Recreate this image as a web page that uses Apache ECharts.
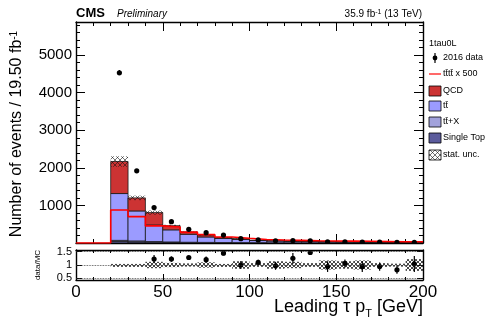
<!DOCTYPE html>
<html><head><meta charset="utf-8">
<script src="https://cdn.jsdelivr.net/npm/echarts@6/dist/echarts.min.js"></script>
<style>html,body{margin:0;padding:0;background:#fff}#c{width:488px;height:321px}</style>
</head><body><div id="c"></div>
<script>
// ---- data ----
const binLow   = [0,10,20,30,40,50,60,70,80,90,100,110,120,130,140,150,160,170,180,190];
const binWidth = 10;
const singleTop = [0,0,40,30,20,14,10,8,6,5,4,3,3,2,2,2,2,1,1,1];
const ttX       = [0,0,30,25,18,14,10,8,7,6,5,4,4,3,3,3,2,2,2,2];
const ttbar     = [0,0,1246,798,442,322,211,144,107,84,56,45,37,30,26,21,18,16,13,11];
const qcd       = [0,0,852,347,329,110,62,53,25,20,10,8,6,5,4,4,3,3,2,1];
const statUnc   = [0,0,140,60,55,25,15,12,8,7,5,4,4,3,3,3,2,2,2,2];
const tttt500   = [0,0,880,702,455,425,290,225,160,125,95,80,70,60,55,50,45,40,35,35];
const dataX     = [25,35,45,55,65,75,85,95,105,115,125,135,145,155,165,175,185,195];
const dataCounts= [4530,1920,942,568,364,276,210,115,82,58,62,58,33,32,24,21,15,16];
const dataErr   = [70,45,30,24,19,17,15,11,9,8,8,8,6,6,5,5,4,4];
const ratioX    = [45,55,65,75,85,95,105,115,125,135,145,155,165,175,185,195];
const ratioVals = [1.22,1.22,1.28,1.2,1.44,1.0,1.1,0.97,1.25,1.47,0.94,1.06,0.94,0.94,0.82,1.04];
const ratioErr  = [0.15,0.1,0.06,0.12,0.08,0.15,0.1,0.15,0.2,0.1,0.2,0.15,0.2,0.15,0.15,0.3];
const ratioUnc  = [0,0,0.04,0.04,0.12,0.08,0.06,0.1,0.04,0.14,0.07,0.14,0.12,0.07,0.17,0.14,0.17,0.07,0.05,0.22];
const xTickLabels = [0,50,100,150,200];
const yTickLabels = [1000,2000,3000,4000,5000];
const ratioTickLabels = [0.5,1,1.5];

const FONT = '"Liberation Sans", Arial, Helvetica, sans-serif';
const colST = '#5b5b9c', colTTX = '#a2a2dc', colTT = '#9b9bff', colQCD = '#cc3333';

function hatchCanvas(n, w, col){
  const c = document.createElement('canvas'); c.width = n; c.height = n;
  const g = c.getContext('2d');
  g.strokeStyle = col; g.lineWidth = w;
  g.beginPath(); g.moveTo(0,0); g.lineTo(n,n); g.moveTo(n,0); g.lineTo(0,n); g.stroke();
  return c;
}
const hatch = {image: hatchCanvas(5, 0.7, 'rgba(20,20,20,0.85)'), repeat: 'repeat'};
const hatchR = {image: hatchCanvas(4, 0.8, 'rgba(0,0,0,0.9)'), repeat: 'repeat'};

const histData = binLow.map((lo,i)=>[lo, lo+binWidth, singleTop[i], ttX[i], ttbar[i], qcd[i]]);
const uncData  = binLow.map((lo,i)=>[lo, lo+binWidth, singleTop[i]+ttX[i]+ttbar[i]+qcd[i], statUnc[i]]);
const ttttLine = binLow.map((lo,i)=>[lo, tttt500[i]]).concat([[binLow[binLow.length-1]+binWidth, tttt500[tttt500.length-1]]]);
const pts      = dataX.map((x,i)=>[x, dataCounts[i], dataErr[i]]);
const rPts     = ratioX.map((x,i)=>[x, ratioVals[i], ratioErr[i]]);
const rBand    = binLow.map((lo,i)=>[lo, lo+binWidth, ratioUnc[i]]);

const axLine = {show:true, onZero:false, lineStyle:{color:'#000', width:1.4}};
function xAx(grid, pos, labels){
  return {type:'value', gridIndex:grid, position:pos, min:0, max:200, interval:50,
    axisLine:axLine, splitLine:{show:false},
    axisTick:{show:true, inside:true, length: grid===0?9:6, lineStyle:{color:'#000', width:1}},
    minorTick:{show:true, splitNumber:5, length: grid===0?4:3, lineStyle:{color:'#000', width:1}},
    axisLabel:{show:labels, color:'#000', fontFamily:FONT, fontSize:17, margin:4,
      customValues: xTickLabels}};
}
function errGlyph(params, api){
  const x = api.value(0), y = api.value(1), e = api.value(2);
  const c = api.coord([x,y]), top = api.coord([x,y+e]), bot = api.coord([x,y-e]);
  return {type:'group', children:[
    {type:'line', shape:{x1:c[0],y1:top[1],x2:c[0],y2:bot[1]}, style:{stroke:'#000', lineWidth:1.2}},
    {type:'circle', shape:{cx:c[0],cy:c[1],r:2.6}, style:{fill:'#000'}}
  ]};
}

const option = {
  animation:false,
  grid:[{left:76, top:22, width:347, height:221},{left:76, top:250, width:347, height:30}],
  xAxis:[xAx(0,'bottom',false), xAx(0,'top',false), xAx(1,'bottom',true), xAx(1,'top',false)],
  yAxis:[
    {type:'value', gridIndex:0, position:'left', min:0, max:5880, interval:1000,
      axisLine:axLine, splitLine:{show:false},
      axisTick:{show:true, inside:true, length:9, lineStyle:{color:'#000'}},
      minorTick:{show:true, splitNumber:5, length:4, lineStyle:{color:'#000'}},
      axisLabel:{color:'#000', fontFamily:FONT, fontSize:15, margin:4,
        formatter: v => (yTickLabels.indexOf(v) >= 0 ? String(v) : '')}},
    {type:'value', gridIndex:0, position:'right', min:0, max:5880, interval:1000,
      axisLine:axLine, splitLine:{show:false},
      axisTick:{show:true, inside:true, length:9, lineStyle:{color:'#000'}},
      minorTick:{show:true, splitNumber:5, length:4, lineStyle:{color:'#000'}},
      axisLabel:{show:false}},
    {type:'value', gridIndex:1, position:'left', min:0.44, max:1.56,
      axisLine:axLine, splitLine:{show:false},
      axisTick:{show:true, inside:true, length:6, customValues:ratioTickLabels, lineStyle:{color:'#000'}},
      axisLabel:{color:'#000', fontFamily:FONT, fontSize:11, margin:4, customValues:ratioTickLabels,
        formatter: v => String(v)}},
    {type:'value', gridIndex:1, position:'right', min:0.44, max:1.56,
      axisLine:axLine, splitLine:{show:false},
      axisTick:{show:true, inside:true, length:6, customValues:ratioTickLabels, lineStyle:{color:'#000'}},
      axisLabel:{show:false}}
  ],
  series:[
    {type:'custom', xAxisIndex:0, yAxisIndex:0, clip:true, data:histData,
      encode:{x:[0,1], y:[2,3,4,5]},
      renderItem:(params, api)=>{
        const lo = api.value(0), hi = api.value(1);
        const vals = [api.value(2), api.value(3), api.value(4), api.value(5)];
        const cols = [colST, colTTX, colTT, colQCD];
        let base = 0; const ch = [];
        vals.forEach((v,k)=>{
          if (v <= 0) return;
          const p0 = api.coord([lo, base+v]), p1 = api.coord([hi, base]);
          ch.push({type:'rect', shape:{x:p0[0], y:p0[1], width:p1[0]-p0[0], height:p1[1]-p0[1]},
            style:{fill:cols[k], stroke:'#1a1a1a', lineWidth:0.8}});
          base += v;
        });
        return {type:'group', children:ch};
      }},
    {type:'custom', xAxisIndex:0, yAxisIndex:0, clip:true, data:uncData,
      encode:{x:[0,1], y:[2]},
      renderItem:(params, api)=>{
        const lo = api.value(0), hi = api.value(1), t = api.value(2), u = api.value(3);
        if (u <= 0) return null;
        const p0 = api.coord([lo, t+u]), p1 = api.coord([hi, t-u]);
        return {type:'rect', shape:{x:p0[0], y:p0[1], width:p1[0]-p0[0], height:p1[1]-p0[1]},
          style:{fill:hatch}};
      }},
    {type:'line', xAxisIndex:0, yAxisIndex:0, step:'end', data:ttttLine, symbol:'none',
      lineStyle:{color:'#ff0000', width:1.6}, z:3},
    {type:'custom', xAxisIndex:0, yAxisIndex:0, clip:true, data:pts, encode:{x:0, y:1},
      renderItem:errGlyph, z:4},
    {type:'custom', xAxisIndex:2, yAxisIndex:2, clip:true, data:rBand, encode:{x:[0,1], y:2},
      renderItem:(params, api)=>{
        const lo = api.value(0), hi = api.value(1), u = api.value(2);
        if (u <= 0) return null;
        const p0 = api.coord([lo, 1+u]), p1 = api.coord([hi, 1-u]);
        return {type:'rect', shape:{x:p0[0], y:p0[1], width:p1[0]-p0[0], height:Math.max(p1[1]-p0[1],3)},
          style:{fill:hatchR}};
      },
      markLine:{silent:true, symbol:'none', label:{show:false},
        lineStyle:{type:'dotted', color:'#333', width:0.8},
        data:[{yAxis:0.5},{yAxis:1},{yAxis:1.5}]}},
    {type:'custom', xAxisIndex:2, yAxisIndex:2, clip:true, data:rPts, encode:{x:0, y:1},
      renderItem:errGlyph, z:4}
  ],
  graphic:[
    {type:'text', x:76, y:13, style:{text:'CMS', font:'bold 13px '+FONT, fill:'#000', verticalAlign:'middle', textVerticalAlign:'middle'}},
    {type:'text', x:117, y:14, style:{text:'Preliminary', font:'italic 10px '+FONT, fill:'#000', verticalAlign:'middle', textVerticalAlign:'middle'}},
    {type:'text', x:422, y:14, style:{text:'35.9 fb{s|-1} (13 TeV)', font:'10px '+FONT, fill:'#000',
      align:'right', textAlign:'right', verticalAlign:'middle', textVerticalAlign:'middle',
      rich:{s:{fontSize:7, fontFamily:FONT, verticalAlign:'top', lineHeight:7}}}},
    {type:'text', x:17, y:134, rotation:Math.PI/2, style:{text:'Number of events / 19.50 fb{s|-1}',
      font:'16px '+FONT, fill:'#000', align:'center', textAlign:'center', verticalAlign:'middle', textVerticalAlign:'middle',
      rich:{s:{fontSize:10, fontFamily:FONT, verticalAlign:'top', lineHeight:10}}}},
    {type:'text', x:38, y:265, rotation:Math.PI/2, style:{text:'data/MC', font:'8px '+FONT, fill:'#000',
      align:'center', textAlign:'center', verticalAlign:'middle', textVerticalAlign:'middle'}},
    {type:'text', x:423, y:307, style:{text:'Leading \u03c4 p{b|T} [GeV]', font:'18px '+FONT, fill:'#000',
      align:'right', textAlign:'right', verticalAlign:'middle', textVerticalAlign:'middle', lineHeight:24,
      rich:{b:{fontSize:11, fontFamily:FONT, verticalAlign:'bottom', lineHeight:11}}}},
    // legend
    {type:'text', x:429, y:44, style:{text:'1tau0L', font:'9px '+FONT, fill:'#000', verticalAlign:'middle', textVerticalAlign:'middle'}},
    {type:'line', shape:{x1:435, y1:53, x2:435, y2:63}, style:{stroke:'#000', lineWidth:1.2}},
    {type:'circle', shape:{cx:435, cy:58, r:2.4}, style:{fill:'#000'}},
    {type:'text', x:443, y:58, style:{text:'2016 data', font:'9px '+FONT, fill:'#000', verticalAlign:'middle', textVerticalAlign:'middle'}},
    {type:'line', shape:{x1:429, y1:74, x2:441, y2:74}, style:{stroke:'#ff4444', lineWidth:1.6}},
    {type:'text', x:443, y:74, style:{text:'tt\u0304tt\u0304 x 500', font:'9px '+FONT, fill:'#000', verticalAlign:'middle', textVerticalAlign:'middle'}},
    {type:'rect', shape:{x:429, y:86, width:12, height:10}, style:{fill:colQCD, stroke:'#000', lineWidth:0.8}},
    {type:'text', x:443, y:91, style:{text:'QCD', font:'9px '+FONT, fill:'#000', verticalAlign:'middle', textVerticalAlign:'middle'}},
    {type:'rect', shape:{x:429, y:101, width:12, height:10}, style:{fill:colTT, stroke:'#000', lineWidth:0.8}},
    {type:'text', x:443, y:106, style:{text:'tt\u0304', font:'9px '+FONT, fill:'#000', verticalAlign:'middle', textVerticalAlign:'middle'}},
    {type:'rect', shape:{x:429, y:117, width:12, height:10}, style:{fill:colTTX, stroke:'#000', lineWidth:0.8}},
    {type:'text', x:443, y:122, style:{text:'tt\u0304+X', font:'9px '+FONT, fill:'#000', verticalAlign:'middle', textVerticalAlign:'middle'}},
    {type:'rect', shape:{x:429, y:133, width:12, height:10}, style:{fill:colST, stroke:'#000', lineWidth:0.8}},
    {type:'text', x:443, y:138, style:{text:'Single Top', font:'9px '+FONT, fill:'#000', verticalAlign:'middle', textVerticalAlign:'middle'}},
    {type:'rect', shape:{x:429, y:150, width:12, height:10}, style:{fill:hatch, stroke:'#000', lineWidth:0.8}},
    {type:'text', x:443, y:155, style:{text:'stat. unc.', font:'9px '+FONT, fill:'#000', verticalAlign:'middle', textVerticalAlign:'middle'}}
  ]
};
const chart = echarts.init(document.getElementById('c'), null, {renderer:'canvas'});
chart.setOption(option);
</script></body></html>
